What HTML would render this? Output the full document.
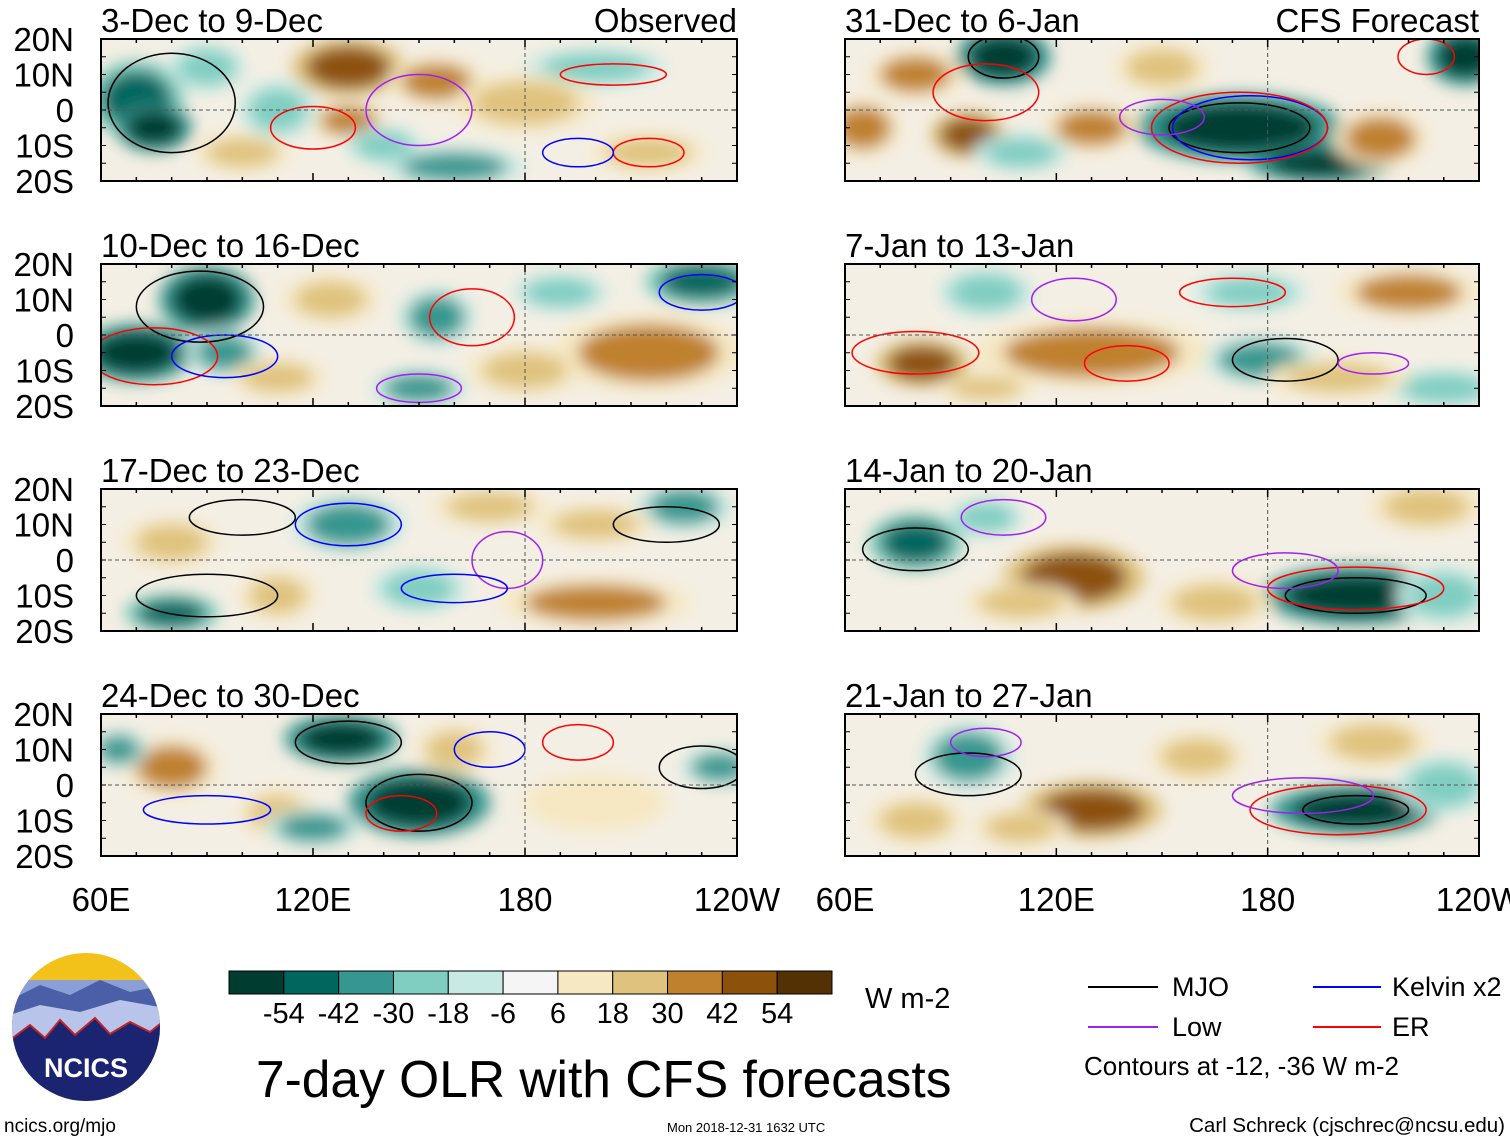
<!DOCTYPE html>
<html><head><meta charset="utf-8"><style>
html,body{margin:0;padding:0;background:#fff}
svg{display:block;font-family:"Liberation Sans",Arial,sans-serif}
</style></head><body>
<svg id="fig" width="1510" height="1142" viewBox="0 0 1510 1142">
<defs>
<filter id="blur" x="-50%" y="-50%" width="200%" height="200%"><feGaussianBlur stdDeviation="8"/></filter>
<clipPath id="logoclip"><circle cx="86" cy="1027" r="74"/></clipPath>
</defs>
<g id="panels"></g>
<g id="colorbar"></g>
<text x="865" y="1008" font-size="29">W m-2</text>
<g>
<g clip-path="url(#logoclip)">
<rect x="10" y="950" width="160" height="160" fill="#f2c21a"/>
<rect x="10" y="980" width="160" height="130" fill="#8a9fd6"/>
<path d="M10 1000 L40 985 L70 995 L100 980 L130 992 L165 985 L165 1030 L10 1030Z" fill="#4a5fa8"/>
<path d="M10 1015 L40 1005 L80 1012 L120 1000 L165 1008 L165 1040 L10 1040Z" fill="#b8c4ea"/>
<path d="M10 1040 L30 1025 L45 1038 L60 1020 L75 1035 L95 1018 L110 1034 L130 1022 L150 1032 L165 1020 L165 1110 L10 1110Z" fill="#1a2470" stroke="#c0232a" stroke-width="2"/>
</g>
<text x="86" y="1077" font-size="27" font-weight="bold" fill="#fff" text-anchor="middle">NCICS</text>
</g>
<text x="256" y="1097" font-size="51.5">7-day OLR with CFS forecasts</text>
<text x="4" y="1132" font-size="19">ncics.org/mjo</text>
<text x="667" y="1132" font-size="13">Mon 2018-12-31 1632 UTC</text>
<text x="1505" y="1132" font-size="20.5" text-anchor="end">Carl Schreck (cjschrec@ncsu.edu)</text>
<g>
<line x1="1088" y1="987" x2="1158" y2="987" stroke="#000" stroke-width="2"/><text x="1172" y="996" font-size="27">MJO</text>
<line x1="1313" y1="987" x2="1381" y2="987" stroke="#0000ff" stroke-width="2"/><text x="1392" y="996" font-size="27">Kelvin x2</text>
<line x1="1088" y1="1027" x2="1158" y2="1027" stroke="#a020f0" stroke-width="2"/><text x="1172" y="1036" font-size="27">Low</text>
<line x1="1313" y1="1027" x2="1381" y2="1027" stroke="#ff0000" stroke-width="2"/><text x="1392" y="1036" font-size="27">ER</text>
<text x="1084" y="1075" font-size="26">Contours at -12, -36 W m-2</text>
</g>
</svg>
<script>
const levels=["-54","-42","-30","-18","-6","6","18","30","42","54"];
const levelColors=["#003c30","#01665e","#35978f","#80cdc1","#c7eae5","#f5f5f5","#f6e8c3","#dfc27d","#bf812d","#8c510a","#543005"];
const panelTitles=["3-Dec to 9-Dec","10-Dec to 16-Dec","17-Dec to 23-Dec","24-Dec to 30-Dec","31-Dec to 6-Jan","7-Jan to 13-Jan","14-Jan to 20-Jan","21-Jan to 27-Jan"];
const latTicks=["20N","10N","0","10S","20S"];
const lonTicks=["60E","120E","180","120W"];
// blobs: [lon, lat, lonRadius, latRadius, colorIndex]
const blobs=[
[[70,3,10,8,1],[75,-5,8,5,0],[90,12,8,5,3],[130,12,12,6,9],[155,8,10,5,8],[130,-3,8,4,8],[160,-16,15,4,2],[200,12,15,4,3],[215,-12,12,4,7],[110,0,8,6,3],[180,2,15,6,7],[100,-12,10,4,7],[140,-10,8,4,3]],
[[90,10,10,7,0],[70,-5,12,6,0],[95,-5,8,5,2],[215,-5,20,8,8],[230,15,12,5,1],[155,5,8,6,2],[150,-15,10,4,2],[125,10,10,5,7],[180,-10,12,5,7],[190,12,10,4,3],[110,-12,10,4,7]],
[[80,5,10,5,7],[130,10,12,6,2],[200,-12,20,5,8],[225,15,10,5,2],[80,-15,10,4,1],[150,-8,10,5,3],[170,15,12,4,7],[110,-10,8,5,7],[200,10,12,4,7]],
[[128,13,12,5,0],[150,-5,15,7,0],[80,5,10,6,8],[235,5,8,4,2],[65,10,6,4,2],[160,10,8,5,7],[200,-5,15,6,6],[110,-8,8,5,7],[120,-12,10,4,2]],
[[105,15,10,6,0],[80,10,10,5,8],[65,-5,8,6,8],[172,-5,22,7,0],[195,-15,15,4,0],[212,-8,10,6,8],[236,15,8,6,0],[130,-5,10,5,8],[95,-7,8,5,9],[150,12,10,5,7],[110,-12,10,4,3]],
[[130,-5,25,7,8],[82,-8,10,5,9],[100,12,10,5,3],[220,12,15,5,8],[178,-7,12,5,2],[230,-15,12,4,3],[175,12,12,4,3],[200,-12,15,4,7],[100,-15,10,3,7]],
[[80,5,10,6,1],[125,-5,15,7,9],[205,-10,20,6,0],[100,12,8,4,3],[165,-12,12,5,7],[225,15,12,5,7],[230,-10,10,6,3],[110,-12,12,4,7]],
[[95,8,10,7,2],[130,-7,15,6,9],[205,-7,18,5,0],[210,12,12,5,7],[160,8,10,5,7],[80,-10,10,5,7],[230,0,10,6,3],[110,-12,10,4,7]]
];
// contours: [lon, lat, lonRadius, latRadius, type]  type 0 MJO,1 Kelvin,2 Low,3 ER
const contours=[
[[80,2,18,14,0],[120,-5,12,6,3],[150,0,15,10,2],[205,10,15,3,3],[215,-12,10,4,3],[195,-12,10,4,1]],
[[88,8,18,10,0],[75,-6,18,8,3],[95,-6,15,6,1],[165,5,12,8,3],[230,12,12,5,1],[150,-15,12,4,2]],
[[100,12,15,5,0],[130,10,15,6,1],[90,-10,20,6,0],[175,0,10,8,2],[220,10,15,5,0],[160,-8,15,4,1]],
[[130,12,15,6,0],[150,-5,15,8,0],[145,-8,10,5,3],[170,10,10,5,1],[90,-7,18,4,1],[230,5,12,6,0],[195,12,10,5,3]],
[[105,15,10,6,0],[172,-5,20,7,0],[175,-5,22,9,1],[172,-5,25,10,3],[100,5,15,8,3],[225,15,8,5,3],[150,-2,12,5,2]],
[[125,10,12,6,2],[185,-7,15,6,0],[80,-5,18,6,3],[170,12,15,4,3],[140,-8,12,5,3],[210,-8,10,3,2]],
[[80,3,15,6,0],[105,12,12,5,2],[205,-10,20,5,0],[205,-8,25,6,3],[185,-3,15,5,2]],
[[95,3,15,6,0],[100,12,10,4,2],[205,-7,15,4,0],[200,-7,25,7,3],[190,-3,20,5,2]]
];
const ns="http://www.w3.org/2000/svg";
const contourColors=["#000","#0000ff","#a020f0","#ff0000"];
const root=document.getElementById("panels");
function mk(tag,attrs,parent){const e=document.createElementNS(ns,tag);for(const k in attrs)e.setAttribute(k,attrs[k]);parent.appendChild(e);return e;}
const colX=[101,845],colW=[636,634],rowY=[39,264,489,714],PH=142;
for(let p=0;p<8;p++){
  const c=p<4?0:1,r=p%4;
  const x0=colX[c],y0=rowY[r],w=colW[c];
  const xs=lon=>x0+(lon-60)/180*w;
  const ys=lat=>y0+(20-lat)/40*PH;
  const g=mk("g",{},root);
  
  
  const cp=mk("clipPath",{id:"cp"+p},g);
  mk("rect",{x:x0,y:y0,width:w,height:PH},cp);
  const inner=mk("g",{"clip-path":"url(#cp"+p+")"},g);
  mk("rect",{x:x0,y:y0,width:w,height:PH,fill:"#f4efe4"},inner);
  const fg=mk("g",{filter:"url(#blur)"},inner);
  blobs[p].forEach(b=>{
    const ci=b[4];
    const lighter=ci<5?Math.min(ci+2,4):Math.max(ci-2,6);
    const e1=mk("ellipse",{cx:xs(b[0]),cy:ys(b[1]),rx:b[2]/180*w*1.35,ry:b[3]/40*PH*1.35,fill:levelColors[lighter]},fg);
    
    
    const e=mk("ellipse",{cx:xs(b[0]),cy:ys(b[1]),rx:b[2]/180*w,ry:b[3]/40*PH,fill:levelColors[ci]},fg);
    
    
  });
  const cg=mk("g",{fill:"none","stroke-width":"1.5"},inner);
  contours[p].forEach(k=>{
    const e=mk("ellipse",{cx:xs(k[0]),cy:ys(k[1]),rx:k[2]/180*w,ry:k[3]/40*PH,stroke:contourColors[k[4]]},cg);
    
    
  });
  mk("line",{x1:x0,y1:ys(0),x2:x0+w,y2:ys(0),stroke:"#555","stroke-dasharray":"4,3","stroke-width":"1"},inner);
  mk("line",{x1:xs(180),y1:y0,x2:xs(180),y2:y0+PH,stroke:"#555","stroke-dasharray":"4,3","stroke-width":"1"},inner);
  mk("rect",{x:x0,y:y0,width:w,height:PH,fill:"none",stroke:"#000","stroke-width":"2"},g);
  for(let lon=60;lon<=240;lon+=10){
    const len=(lon%60==0)?8:4;
    mk("line",{x1:xs(lon),y1:y0,x2:xs(lon),y2:y0+len,stroke:"#000","stroke-width":"1.5"},g);
    mk("line",{x1:xs(lon),y1:y0+PH,x2:xs(lon),y2:y0+PH-len,stroke:"#000","stroke-width":"1.5"},g);
  }
  for(let lat=-20;lat<=20;lat+=5){
    mk("line",{x1:x0,y1:ys(lat),x2:x0+5,y2:ys(lat),stroke:"#000"},g);
    mk("line",{x1:x0+w,y1:ys(lat),x2:x0+w-5,y2:ys(lat),stroke:"#000"},g);
  }
  const t=mk("text",{x:x0,y:y0-7,"font-size":"33"},g);
  t.textContent=panelTitles[p];
  
  
  if(p==0||p==4){
    const t2=mk("text",{x:x0+w,y:y0-7,"font-size":"33","text-anchor":"end"},g);
    t2.textContent=p==0?"Observed":"CFS Forecast";
    
    
  }
  if(c==0){
    latTicks.forEach((lb,i)=>{
      const tt=mk("text",{x:74,y:y0+i*PH/4+12,"font-size":"33","text-anchor":"end"},g);
      tt.textContent=lb;
      
      
    });
  }
  if(r==3){
    lonTicks.forEach((lb,i)=>{
      const tt=mk("text",{x:xs(60+i*60),y:911,"font-size":"33","text-anchor":"middle"},g);
      tt.textContent=lb;
      
      
    });
  }
}
const cb=document.getElementById("colorbar");
const cbx=229,cbw=603/11;
levelColors.forEach((col,i)=>{
  const r=mk("rect",{x:cbx+i*cbw,y:971,width:cbw,height:23,fill:col,stroke:"#000","stroke-width":"1"},cb);
  
  
});
levels.forEach((lb,i)=>{
  const t=mk("text",{x:cbx+(i+1)*cbw,y:1023,"font-size":"29","text-anchor":"middle"},cb);
  t.textContent=lb;
  
  
});
</script>
</body></html>
